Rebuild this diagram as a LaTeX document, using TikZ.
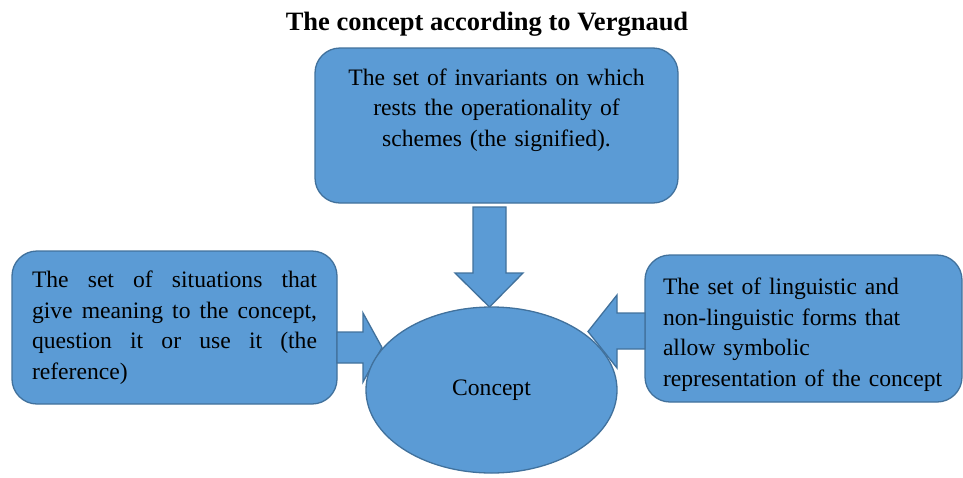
\documentclass[tikz,border=0pt]{standalone}
\usepackage{fontspec}
\setmainfont{Liberation Serif}
\usetikzlibrary{shapes.geometric}
\definecolor{boxfill}{HTML}{5B9BD5}
\definecolor{boxline}{HTML}{41719C}
\tikzset{
  ideabox/.style={draw=boxline, fill=boxfill, line width=1.3pt, rounded corners=25pt,
    inner ysep=0pt, font=\fontsize{23.6}{30.5}\selectfont},
  blockarrow/.style={draw=boxline, fill=boxfill, line width=1.3pt, line join=miter},
}
\begin{document}
\begin{tikzpicture}[x=1pt,y=-1pt]
                    \useasboundingbox (0,0) rectangle (963,477);
                    \node (title) at (487,24) {\fontsize{26.5}{32}\selectfont\bfseries The concept according to Vergnaud};
                    % the three sets around the concept
                    \node[ideabox, minimum width=363pt, minimum height=155pt, text width=340pt, inner xsep=11.5pt, align=center]
                        (invariants) at (496.5,125.5) {The set of invariants on which\\ rests the operationality of\\ schemes (the signified).\\[6pt] \mbox{}};
                    \node[ideabox, minimum width=325pt, minimum height=153pt, text width=285pt, inner xsep=20pt, align=justify]
                        (situations) at (174.5,327.5) {The set of situations that\linebreak give meaning to the concept,\linebreak question it or use it (the\linebreak reference)};
                    \node[ideabox, minimum width=317pt, minimum height=147pt, text width=281pt, inner xsep=18pt, align=left]
                        (forms) at (803.5,328.5) {The set of linguistic and\\ non-linguistic forms that\\ allow symbolic\\ representation of the concept\\[-38pt] \mbox{}};
                    % block arrows
                    \coordinate (dA) at (489.5,207);
                    \coordinate (lA) at (337,347.5);
                    \coordinate (rA) at (645,331);
                    \draw[blockarrow] (dA) ++(-16.5,0) -- ++(33,0) -- ++(0,66) -- ++(17,0) -- (489.5,307) -- (455,273) -- ++(18,0) -- cycle;
                    \draw[blockarrow] (lA) ++(0,-15.5) -- ++(26,0) -- ++(0,-19) -- (382,347.5) -- (363,382) -- ++(0,-19) -- ++(-26,0) -- cycle;
                    \node[draw=boxline, fill=boxfill, line width=1.3pt, ellipse, minimum width=251pt, minimum height=166pt, inner sep=0pt,
                        font=\fontsize{23.6}{30.5}\selectfont] (concept) at (491.5,390) {Concept};
                    \draw[blockarrow] (rA) ++(0,-18) -- ++(-28,0) -- ++(0,-18) -- (588,331.5) -- (617,368) -- ++(0,-19) -- ++(28,0) -- cycle;
\end{tikzpicture}
\end{document}
